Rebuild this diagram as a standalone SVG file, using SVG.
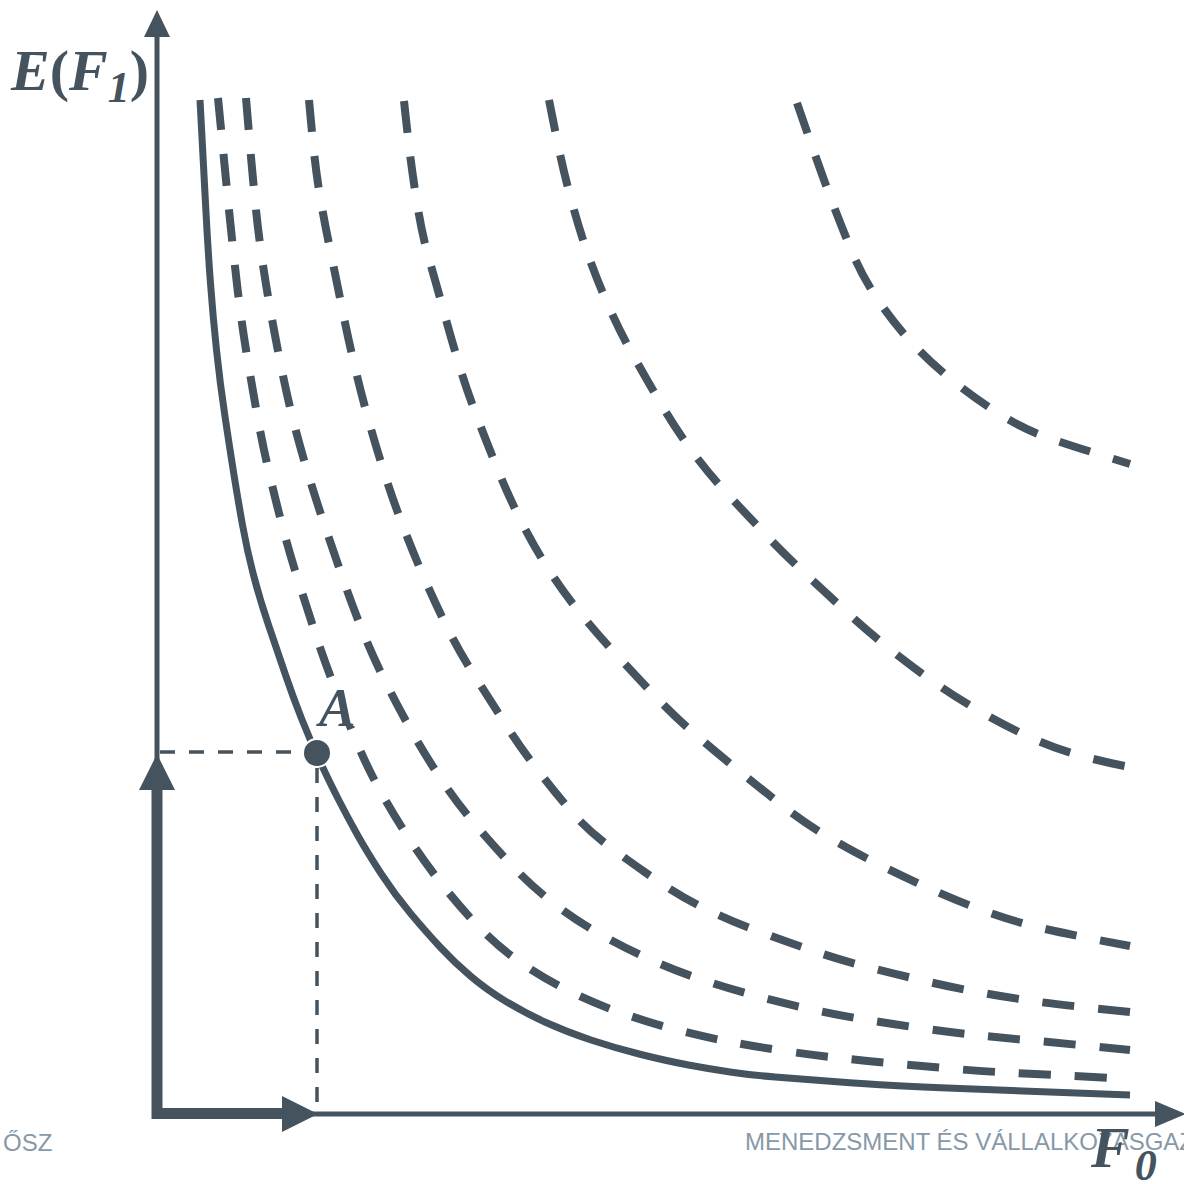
<svg xmlns="http://www.w3.org/2000/svg" width="1184" height="1184" viewBox="0 0 1184 1184">
<style>
.c{fill:none;stroke:#45535f;stroke-linejoin:round}
.dash{stroke-width:8;stroke-dasharray:32 24}
.solid{stroke-width:7}
.guide{fill:none;stroke:#45535f;stroke-width:3.5;stroke-dasharray:15 14}
.ax{fill:none;stroke:#45535f;stroke-width:5}
.head{fill:#45535f}
.lbl{font-family:"Liberation Serif",serif;font-weight:bold;fill:#45535f}
.foot{font-family:"Liberation Sans",Arial,sans-serif;font-size:24px;fill:#8799a8}
</style>
<rect width="1184" height="1184" fill="#fff"/>
<text class="foot" x="3" y="1151">ŐSZ</text>
<text class="foot" x="745" y="1150">MENEDZSMENT ÉS VÁLLALKOZÁSGAZ</text>
<g id="axes">
<line class="ax" x1="157" y1="1114" x2="157" y2="34"/>
<polygon class="head" points="157,10 144,37 170,37"/>
<line class="ax" x1="157" y1="1114" x2="1158" y2="1114"/>
<polygon class="head" points="1186,1114 1155,1101 1155,1127"/>
</g>
<g id="curves">
<path id="solid" class="c solid" d="M200,100 L202,137.5 Q204,175 206,212.5 Q208,250 210.5,283.5 Q213,317 216.5,350 Q220,383 225,416.5 Q230,450 234,475 Q238,500 242.5,525 Q247,550 253.5,575 Q260,600 268.5,625 Q277,650 285,673.5 Q293,697 301.5,718.5 Q310,740 320,761.5 Q330,783 339,800.5 Q348,818 357.5,835 Q367,852 381,873.5 Q395,895 411,914 Q427,933 441,948 Q455,963 471,976.5 Q487,990 506,1001.5 Q525,1013 546,1022.5 Q567,1032 591,1040 Q615,1048 641,1054.5 Q667,1061 688.5,1065 Q710,1069 730,1072 Q750,1075 775,1077 Q800,1079 833.5,1081.5 Q867,1084 893.5,1085.5 Q920,1087 960,1088.5 Q1000,1090 1130,1095"/>
<path id="ic1" class="c dash" d="M218,98 L221.5,134 Q225,170 228.5,205 Q232,240 236.5,280 Q241,320 247,356 Q253,392 258,419.5 Q263,447 269.5,474.5 Q276,502 283,528.5 Q290,555 298.5,581.5 Q307,608 315,632.5 Q323,657 333.5,684.5 Q344,712 355.5,739.5 Q367,767 380,790.5 Q393,814 408,837 Q423,860 440.5,882.5 Q458,905 478,926 Q498,947 520.5,962.5 Q543,978 568,990.5 Q593,1003 620,1012.5 Q647,1022 673.5,1029 Q700,1036 725.5,1041 Q751,1046 781.5,1050.5 Q812,1055 839.5,1058 Q867,1061 894.5,1063.5 Q922,1066 950,1068.5 Q978,1071 1006,1072.5 Q1034,1074 1130,1079"/>
<path id="ic2" class="c dash" d="M246,98 L249,134 Q252,170 255.5,205 Q259,240 264.5,275 Q270,310 278,351 Q286,392 293,419.5 Q300,447 308,473.5 Q316,500 324.5,525 Q333,550 342.5,577.5 Q352,605 362.5,631 Q373,657 385.5,682 Q398,707 411.5,731 Q425,755 441,779 Q457,803 474,823 Q491,843 510.5,864 Q530,885 552.5,902.5 Q575,920 599,933.5 Q623,947 648,958.5 Q673,970 700,979 Q727,988 754.5,995.5 Q782,1003 809.5,1009 Q837,1015 864.5,1019.5 Q892,1024 920,1028 Q948,1032 975.5,1035 Q1003,1038 1031.5,1040.5 Q1060,1043 1130,1050"/>
<path id="ic3" class="c dash" d="M309,100 L312,132.5 Q315,165 319,190 Q323,215 330,249 Q337,283 342.5,310.5 Q348,338 354.5,365.5 Q361,393 368.5,420 Q376,447 384.5,473.5 Q393,500 402.5,525 Q412,550 423.5,576.5 Q435,603 447.5,628 Q460,653 475,676.5 Q490,700 505,723.5 Q520,747 536.5,768.5 Q553,790 570,810 Q587,830 612,848.5 Q637,867 660,882.5 Q683,898 708,910 Q733,922 760,932 Q787,942 813.5,951 Q840,960 867.5,967 Q895,974 922.5,980.5 Q950,987 977.5,992 Q1005,997 1032.5,1001 Q1060,1005 1130,1012"/>
<path id="ic4" class="c dash" d="M404,101 L407.5,133 Q411,165 416.5,200 Q422,235 429,259 Q436,283 443.5,310.5 Q451,338 459,364.5 Q467,391 477,417 Q487,443 497.5,469 Q508,495 520.5,520 Q533,545 548,568.5 Q563,592 580.5,613.5 Q598,635 617.5,656 Q637,677 656,697 Q675,717 696,735 Q717,753 738.5,770.5 Q760,788 781.5,805 Q803,822 826.5,836 Q850,850 875,862.5 Q900,875 925,886.5 Q950,898 976.5,908 Q1003,918 1029,925 Q1055,932 1130,946"/>
<path id="ic5" class="c dash" d="M549,100 L556,135 Q563,170 571.5,201 Q580,232 588.5,256 Q597,280 608.5,306 Q620,332 633.5,356 Q647,380 661,404 Q675,428 691.5,450.5 Q708,473 727.5,494 Q747,515 766,535 Q785,555 805,573.5 Q825,592 845,610.5 Q865,629 886,646 Q907,663 929.5,679 Q952,695 976,709 Q1000,723 1025,735 Q1050,747 1076.5,754.5 Q1103,762 1130,767"/>
<path id="ic6" class="c dash" d="M797,103 L809.5,139 Q822,175 832,201.5 Q842,228 852.5,253 Q863,278 879,301.5 Q895,325 914,345 Q933,365 955,382.5 Q977,400 1001,415 Q1025,430 1051.5,439 Q1078,448 1130,464"/>
<line class="guide" x1="160" y1="752" x2="305" y2="752"/>
<line class="guide" x1="317" y1="768" x2="317" y2="1112"/>
</g>
<g id="thick-arrows">
<path d="M157,788 L157,1113.5 L284,1113.5" fill="none" stroke="#45535f" stroke-width="11" stroke-linejoin="miter"/>
<polygon class="head" points="157,754 139,790 175,790"/>
<polygon class="head" points="318,1114 282,1096 282,1132"/>
</g>
<g id="pointA">
<rect x="322" y="686" width="36" height="40" fill="#fff"/>
<circle cx="317" cy="753" r="14" fill="#45535f" stroke="#fff" stroke-width="2"/>
<text class="lbl" x="319" y="726" font-size="55" font-style="italic">A</text>
</g>
<g id="labels">
<text class="lbl" x="11" y="90" font-size="58"><tspan font-style="italic">E</tspan>(<tspan font-style="italic">F</tspan><tspan font-style="italic" font-size="44" dy="12">1</tspan><tspan dy="-12">)</tspan></text>
<text class="lbl" x="1091" y="1167" font-size="58"><tspan font-style="italic">F</tspan><tspan font-style="italic" font-size="44" dx="5" dy="13">0</tspan></text>
</g>
</svg>
